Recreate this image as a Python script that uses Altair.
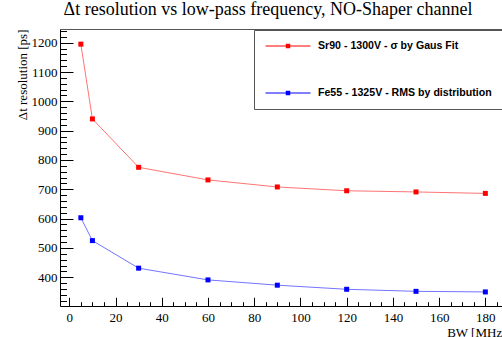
import altair as alt
import pandas as pd

bw = [5, 10, 30, 60, 90, 120, 150, 180]
sr90 = [1195, 940, 775, 732, 708, 695, 691, 686]
fe55 = [603, 525, 431, 391, 373, 359, 352, 350]
series = ["Sr90 - 1300V - σ by Gaus Fit", "Fe55 - 1325V - RMS by distribution"]
colors = ["#ff0000", "#0000ff"]
y_major = list(range(400, 1201, 100))
y_minor = list(range(320, 1241, 20))
x_major = list(range(0, 181, 20))
x_minor = list(range(0, 186, 5))

rows = []
for b, s, f in zip(bw, sr90, fe55):
    rows.append({"bw": b, "res": s, "series": series[0]})
    rows.append({"bw": b, "res": f, "series": series[1]})
df = pd.DataFrame(rows)

SERIF = "Liberation Serif, Times New Roman, serif"
SANS = "Liberation Sans, Arial, sans-serif"

xs = alt.Scale(domain=[-4.02, 187.2], nice=False, zero=False)
ys = alt.Scale(domain=[302, 1246.7], nice=False, zero=False)
cs = alt.Scale(domain=series, range=colors)

base = alt.Chart(df)

# connecting lines (no scale -> no legend) + major ticks & labels
lines = base.mark_line(strokeWidth=1, opacity=0.55).encode(
    x=alt.X("bw:Q", scale=xs, axis=alt.Axis(
        orient="bottom", values=x_major, tickSize=8.7, offset=-8.7, domain=False,
        grid=False, labelFont=SERIF, labelFontSize=13, labelPadding=5,
        labelColor="black", tickColor="black", title=None, format="d",
        labelFlush=False, labelOverlap=False)),
    y=alt.Y("res:Q", scale=ys, axis=alt.Axis(
        orient="left", values=y_major, tickSize=13, offset=-13, domain=False,
        grid=False, labelFont=SERIF, labelFontSize=13, labelPadding=3,
        labelColor="black", tickColor="black", title=None, format="d",
        labelFlush=False, labelOverlap=False)),
    detail="series:N",
    stroke=alt.condition(alt.datum.series == series[0],
                         alt.value(colors[0]), alt.value(colors[1])),
    order="bw:Q",
)

# markers + minor ticks + legend
sym = "M-4.5,-0.1H4.5V0.1H-4.5Z M-0.45,-0.45H0.45V0.45H-0.45Z"
points = base.mark_square(size=25, opacity=1).encode(
    x=alt.X("bw:Q", scale=xs, axis=alt.Axis(
        orient="bottom", values=x_minor, tickSize=4.3, offset=-4.3, domain=False,
        grid=False, labels=False, tickColor="black", title=None)),
    y=alt.Y("res:Q", scale=ys, axis=alt.Axis(
        orient="left", values=y_minor, tickSize=6.5, offset=-6.5, domain=False,
        grid=False, labels=False, tickColor="black", title=None)),
    color=alt.Color("series:N", scale=cs, sort=series, legend=alt.Legend(
        orient="none", legendX=194, legendY=1, title=None,
        strokeColor="#555", fillColor="white", padding=10, rowPadding=35,
        symbolType=sym, symbolSize=100, symbolOffset=18,
        labelFont=SANS, labelFontWeight="bold", labelFontSize=10.6,
        labelColor="black", labelOffset=24, labelLimit=400,
        labelExpr="datum.label + '\u00a0\u00a0\u00a0\u00a0\u00a0\u00a0'")),
)

# frame: bottom & left domain + axis titles
frame = base.mark_point(opacity=0).encode(
    x=alt.X("bw:Q", scale=xs, axis=alt.Axis(
        orient="bottom", domain=True, domainColor="black", ticks=False, labels=False,
        grid=False, title="BW [MHz]", titleFont=SERIF, titleFontSize=13,
        titleFontWeight="normal", titleColor="black", titleAlign="right",
        titleBaseline="alphabetic", titleX=446, titleY=30)),
    y=alt.Y("res:Q", scale=ys, axis=alt.Axis(
        orient="left", domain=True, domainColor="black", ticks=False, labels=False,
        grid=False, title="Δt resolution [ps]", titleFont=SERIF, titleFontSize=13,
        titleFontWeight="normal", titleColor="black", titleAlign="right",
        titleAngle=-90, titleBaseline="alphabetic", titleX=-34, titleY=0)),
)

# top border
top = base.mark_point(opacity=0).encode(
    x=alt.X("bw:Q", scale=xs, axis=alt.Axis(
        orient="top", domain=True, domainColor="#555", ticks=False, labels=False,
        grid=False, title=None)),
    y=alt.Y("res:Q", scale=ys, axis=None),
)

chart = alt.layer(lines, points, frame, top).resolve_axis(
    x="independent", y="independent"
).properties(
    width=442, height=277,
    autosize=alt.AutoSizeParams(type="none"),
    padding={"left": 60, "top": 29, "right": 0, "bottom": 31},
    background="white",
    title=alt.TitleParams(
        "Δt resolution vs low-pass frequency, NO-Shaper channel",
        font=SERIF, fontSize=18, fontWeight="normal", color="black",
        anchor="middle", dx=-13, offset=10),
).configure_view(stroke=None)

chart.save("out.html", embed_options={"renderer": "svg", "actions": False})
